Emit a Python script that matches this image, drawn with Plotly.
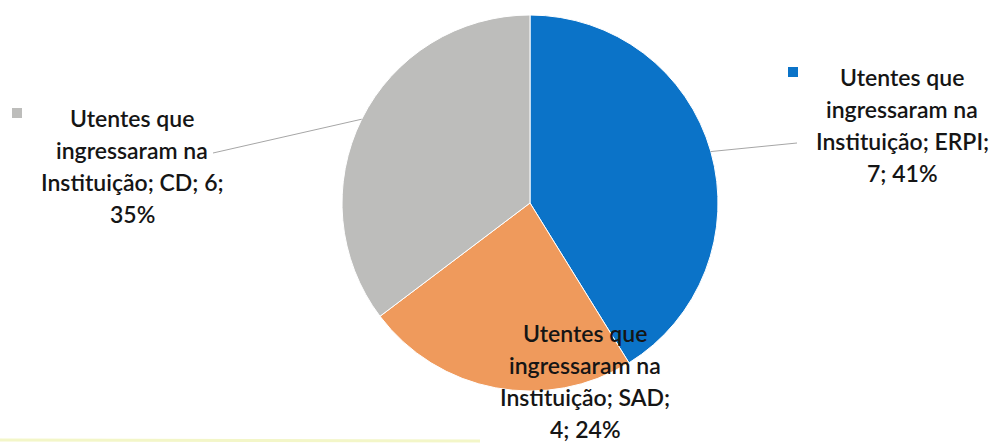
import numpy as np
import plotly.graph_objects as go

W, H = 995, 443

categories = ["ERPI", "SAD", "CD"]
values = [7, 4, 6]
percents = [41, 24, 35]
colors = ["#0B73C8", "#EF9A5C", "#BDBDBB"]

C_TEXT = "#151515"
C_LEAD = "#A6A6A6"
FONT = "Lato, sans-serif"
LINE_H = 32

# pie geometry in pixels (center / radius)
CX, CY, R = 530, 203, 188

fig = go.Figure(go.Pie(
    labels=categories, values=values,
    sort=False, direction="clockwise", rotation=0,
    marker=dict(colors=colors, line=dict(color="#FFFFFF", width=1)),
    textinfo="none", hoverinfo="label+value+percent",
    domain=dict(x=[(CX - R) / W, (CX + R) / W], y=[1 - (CY + R) / H, 1 - (CY - R) / H]),
    showlegend=False,
))

# label centres (pixel) and whether a leader line is drawn
label_pos = {"ERPI": (902, 125, True), "SAD": (585, 381, False), "CD": (132, 166, True)}
line_end = {"ERPI": (797, 143), "CD": (213, 153)}
square_pos = {"ERPI": (793, 72), "SAD": None, "CD": (17, 113)}

total = sum(values)
cum = 0
for cat, v, p, col in zip(categories, values, percents, colors):
    mid = (cum + v / 2) / total * 2 * np.pi
    cum += v
    ex, ey = CX + R * np.sin(mid), CY - R * np.cos(mid)
    lx, ly, lead = label_pos[cat]
    if cat == "CD":
        lines = ["Utentes que", "ingressaram na", f"Instituição; {cat}; {v};", f"{p}%"]
    else:
        lines = ["Utentes que", "ingressaram na", f"Instituição; {cat};", f"{v}; {p}%"]
    for i, s in enumerate(lines):
        yy = ly + (i - (len(lines) - 1) / 2) * LINE_H
        fig.add_annotation(
            text=s, x=lx / W, y=1 - yy / H, xref="paper", yref="paper",
            xanchor="center", yanchor="middle", showarrow=False,
            font=dict(family=FONT, size=23, color=C_TEXT, weight=600),
        )
    if lead:
        tx, ty = line_end[cat]
        fig.add_shape(type="line", xref="paper", yref="paper",
                      x0=ex / W, y0=1 - ey / H, x1=tx / W, y1=1 - ty / H,
                      line=dict(color=C_LEAD, width=1))
    sq = square_pos[cat]
    if sq:
        fig.add_shape(type="rect", xref="paper", yref="paper",
                      x0=(sq[0] - 5) / W, x1=(sq[0] + 5) / W,
                      y0=1 - (sq[1] + 5) / H, y1=1 - (sq[1] - 5) / H,
                      fillcolor=col, line_width=0)

# faint yellow scan edge at bottom
fig.add_shape(type="line", xref="paper", yref="paper",
              x0=0, x1=480 / W, y0=1 - 440 / H, y1=1 - 441 / H,
              line=dict(color="#F3F6C8", width=3))

fig.update_layout(
    width=W, height=H, margin=dict(l=0, r=0, t=0, b=0),
    paper_bgcolor="#FFFFFF", plot_bgcolor="#FFFFFF",
    font=dict(family=FONT, color=C_TEXT),
)

fig.write_html("out.html", config={"displayModeBar": False},
               post_script="document.body.style.margin='0';")
